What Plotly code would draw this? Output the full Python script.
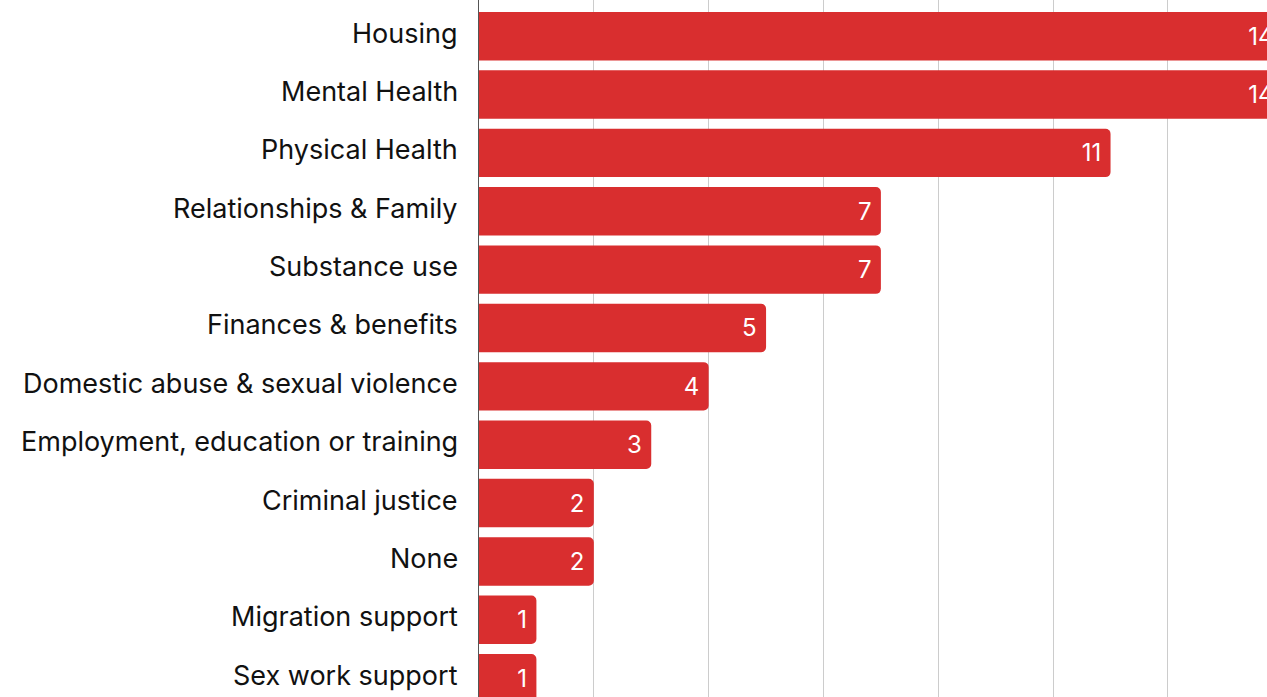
import plotly.graph_objects as go

# Support needs reported, most common first
categories = [
    "Housing",
    "Mental Health",
    "Physical Health",
    "Relationships & Family",
    "Substance use",
    "Finances & benefits",
    "Domestic abuse & sexual violence",
    "Employment, education or training",
    "Criminal justice",
    "None",
    "Migration support",
    "Sex work support",
]
counts = [14, 14, 11, 7, 7, 5, 4, 3, 2, 2, 1, 1]
x_ticks = [0, 2, 4, 6, 8, 10, 12, 14]

BAR_RED = "#d92e2f"
FONT = "Inter"
TEXT = "#111111"

fig = go.Figure(
    go.Bar(
        y=categories,
        x=counts,
        orientation="h",
        marker=dict(color=BAR_RED, line=dict(width=0), cornerradius=5),
        texttemplate="%{x}\u2009",
        textposition="inside",
        insidetextanchor="end",
        textangle=0,
        insidetextfont=dict(family=FONT, size=24, color="white"),
        cliponaxis=True,
        hoverinfo="skip",
    )
)

# Category names, right-aligned against the axis line
for name in categories:
    fig.add_annotation(
        x=0,
        xref="paper",
        y=name,
        yref="y",
        text=name,
        showarrow=False,
        xanchor="right",
        yanchor="middle",
        xshift=-19,
        yshift=3,
        font=dict(family=FONT, size=27, color=TEXT),
    )

fig.update_layout(
    width=1267,
    height=697,
    margin=dict(l=479, r=0, t=0, b=0),
    paper_bgcolor="white",
    plot_bgcolor="white",
    bargap=0.17,
    showlegend=False,
    font=dict(family=FONT, size=27, color=TEXT),
)

fig.update_xaxes(
    range=[0, 13.725],
    tickvals=x_ticks,
    showticklabels=False,
    showgrid=True,
    gridcolor="#cccccc",
    gridwidth=1,
    zeroline=False,
    showline=False,
    fixedrange=True,
)

fig.update_yaxes(
    type="category",
    categoryorder="array",
    categoryarray=categories,
    range=[11.323, -0.620],
    showline=True,
    linecolor="#555555",
    linewidth=1,
    ticks="",
    showticklabels=False,
    showgrid=False,
    fixedrange=True,
)

fig.write_html("out.html", config={"displayModeBar": False})
